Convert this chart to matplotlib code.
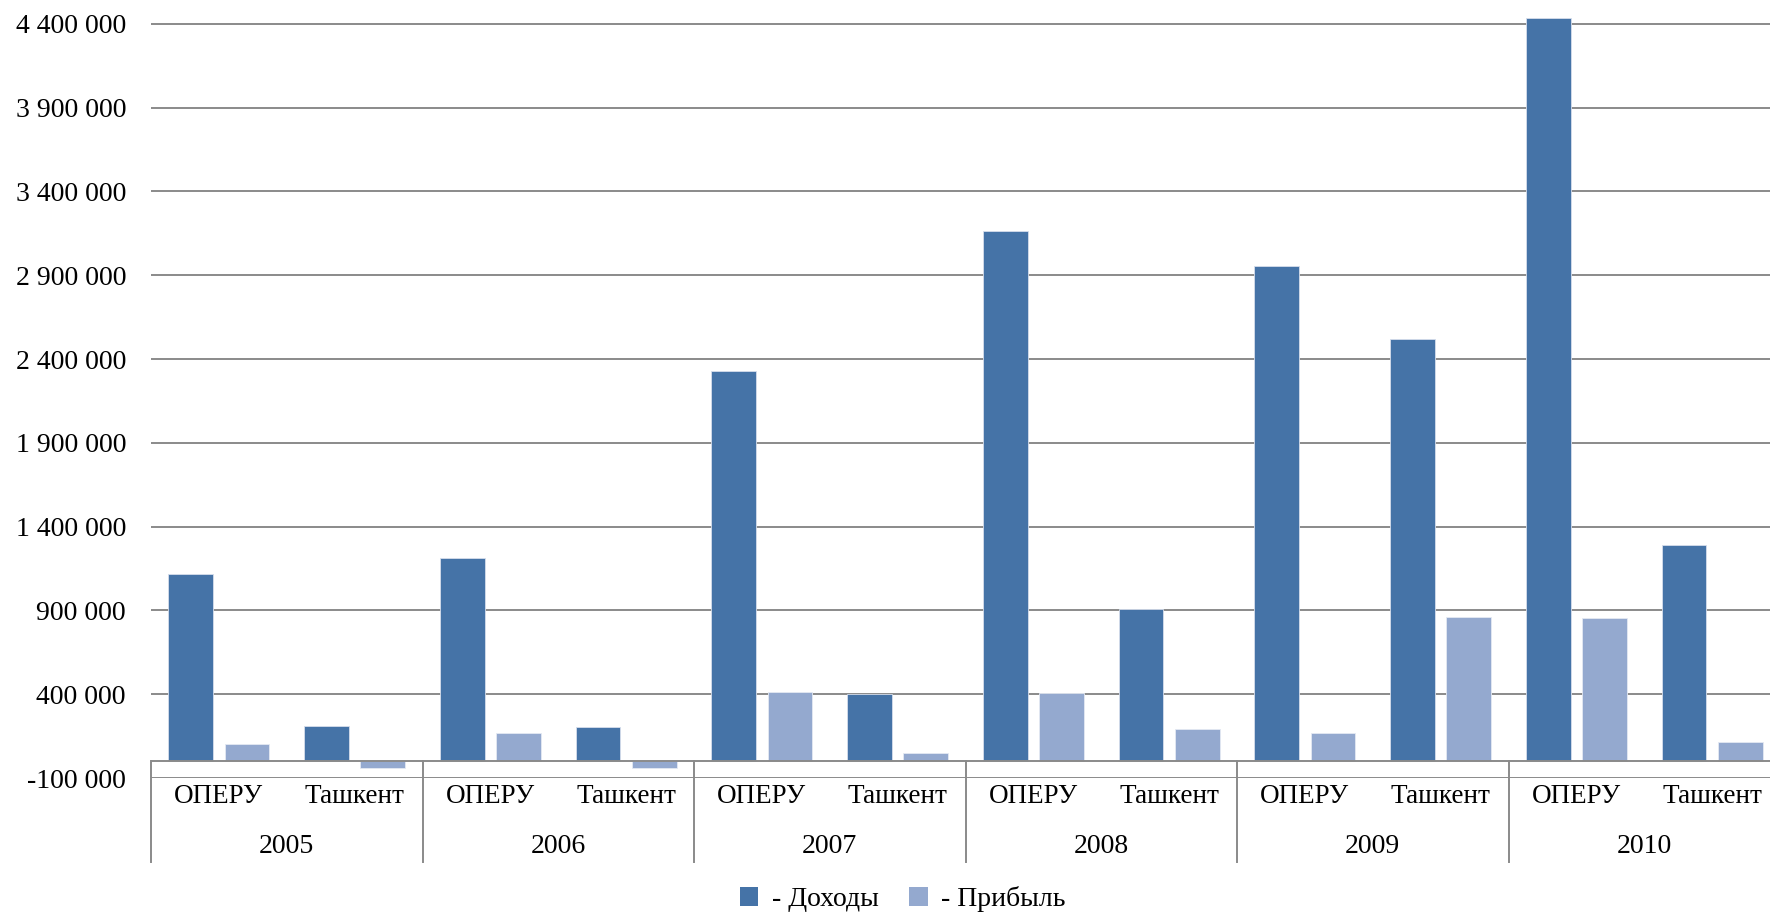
import matplotlib
matplotlib.use("Agg")
import matplotlib.pyplot as plt
import matplotlib.transforms as mtransforms
from matplotlib.patches import Patch
import numpy as np

years = ["2005", "2006", "2007", "2008", "2009", "2010"]
branches = ["ОПЕРУ", "Ташкент"]

# revenue and profit, ОПЕРУ / Ташкент per year
income = [1117000, 209000, 1215000, 207000, 2330000, 404000,
          3161000, 906000, 2956000, 2520000, 4432000, 1289000]
profit = [100000, -43000, 170000, -42000, 413000, 50000,
          410000, 194000, 169000, 863000, 855000, 112000]

y_ticks = np.arange(-100000, 4400001, 500000)

DARK = "#4573a7"
LIGHT = "#94a9cf"
GRID = "#8a8a8a"
FS = 20

plt.rcParams["font.family"] = ["Liberation Serif", "DejaVu Serif"]
plt.rcParams["font.size"] = FS

W, H = 1770, 913
fig = plt.figure(figsize=(W / 100, H / 100), dpi=100)
ax = fig.add_axes([151 / W, 135 / H, 1629 / W, 838 / H])

n = len(income)
x = np.arange(n) + 0.5
bw = 0.331
off = 0.207
ax.bar(x - off, income, width=bw, color=DARK, edgecolor="#d6deec", linewidth=0.6, zorder=2)
ax.bar(x + off, profit, width=bw, color=LIGHT, edgecolor="#e4e9f3", linewidth=0.6, zorder=2)

ax.set_xlim(0, n)
ax.set_ylim(-100000, 4900000)
ax.set_yticks(y_ticks)
ax.set_yticklabels([f"{v:,}".replace(",", " ") for v in y_ticks])
ax.tick_params(axis="y", length=0, pad=18, labelsize=FS)
ax.set_xticks([])
for s in ax.spines.values():
    s.set_visible(False)
ax.grid(axis="y", color=GRID, linewidth=1.4, zorder=0)
ax.set_axisbelow(True)
ax.axhline(0, color=GRID, linewidth=1.4, zorder=3)

# two-level category axis under the plot
fig.canvas.draw()
base_fig_y = fig.transFigure.inverted().transform(ax.transData.transform((0, 0)))[1]
tr = mtransforms.blended_transform_factory(ax.transData, fig.transFigure)
sep_bottom = 51 / H
for g in range(0, n + 1, 2):
    ax.plot([g, g], [base_fig_y, sep_bottom], transform=tr, color=GRID,
            linewidth=1.4, clip_on=False, zorder=3)

for i in range(n):
    ax.text(x[i], 117 / H, branches[i % 2], transform=tr, ha="center", va="center",
            fontsize=19.5, clip_on=False)
for k, yr in enumerate(years):
    ax.text(2 * k + 1, 67 / H, yr, transform=tr, ha="center", va="center",
            fontsize=FS, clip_on=False)

handles = [Patch(facecolor=DARK, edgecolor="none"), Patch(facecolor=LIGHT, edgecolor="none")]
fig.legend(handles, ["- Доходы", "- Прибыль"], loc="center", bbox_to_anchor=(903 / W, 14 / H),
           ncol=2, frameon=False, fontsize=FS, handlelength=0.65, handleheight=0.65,
           handletextpad=0.5, columnspacing=1.1)

fig.savefig("out.png", dpi=100, facecolor="white")
